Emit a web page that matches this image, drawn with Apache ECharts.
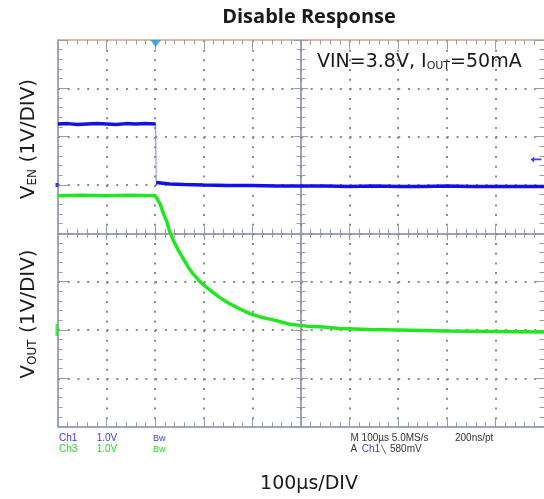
<!DOCTYPE html>
<html><head><meta charset="utf-8">
<script src="https://cdn.jsdelivr.net/npm/echarts@6/dist/echarts.min.js"></script>
<style>html,body{margin:0;padding:0;background:#fff}#c{width:544px;height:499px}</style>
</head><body><div id="c"></div>
<script>
// Time axis: 100 µs per division, 10 divisions
const timeMin = 0, timeMax = 1000, timeStep = 100;
// Vertical axis in divisions (1 V/DIV), 8 divisions
const divMin = -4, divMax = 4, divStep = 1;

// Ch1 (V_EN), in divisions
const ch1Time = [0, 20, 40, 60, 80, 100, 120, 140, 160, 180, 201, 202, 205, 230, 260, 300, 350, 400, 450, 500, 550, 600, 650, 700, 750, 800, 850, 900, 950, 1000];
const ch1Div  = [2.26, 2.27, 2.25, 2.26, 2.27, 2.26, 2.25, 2.27, 2.26, 2.27, 2.26, 1.05, 1.03, 1.02, 1.01, 1.00, 0.99, 0.99, 0.98, 0.98, 0.98, 0.97, 0.98, 0.97, 0.97, 0.98, 0.97, 0.97, 0.97, 0.97];
const ch1EdgeIndex = 10; // last sample before the falling edge

// Ch3 (V_OUT), in divisions
const ch3Time = [0, 50, 100, 150, 200, 203, 210, 217, 224, 230, 237, 244, 251, 258, 268, 278, 292, 306, 320, 333, 354, 375, 395, 416, 443, 477, 512, 546, 580, 640, 700, 800, 900, 1000];
const ch3Div  = [0.78, 0.79, 0.78, 0.79, 0.78, 0.78, 0.61, 0.41, 0.24, 0.03, -0.14, -0.28, -0.41, -0.53, -0.70, -0.84, -1.00, -1.12, -1.23, -1.33, -1.46, -1.57, -1.66, -1.73, -1.79, -1.88, -1.92, -1.94, -1.97, -1.99, -2.00, -2.02, -2.03, -2.04];

// Markers
const ch1Ground = 1.0, ch3Ground = -2.0;
const trigTime = 201, trigLevel = 1.53;

// Texts
const titleText = 'Disable Response';
const xLabel = '100\u00b5s/DIV';
const statusLeft = [['Ch1', '1.0V', 'Bw'], ['Ch3', '1.0V', 'Bw']];
const statusRight1 = ['M 100\u00b5s 5.0MS/s', '200ns/pt'];
const statusRight2 = ['A', 'Ch1', '\u2572', '580mV'];

const FRAME = '#8088a2', TICK = '#959db3', DOT = '#868a96';
const BLUE = '#1212e8', GREEN = '#22e622', TBLUE = '#3a3aff', TGREEN = '#22dd22';
const GL = 58, GT = 40, GW = 486, GH = 386.67;

function xAx(extra) {
  return Object.assign({
    type: 'value', min: timeMin, max: timeMax, interval: timeStep,
    axisLabel: { show: false },
    axisLine: { show: true, onZero: false, lineStyle: { color: FRAME, width: 1.5 } },
    axisTick: { show: true, inside: true, length: 9, lineStyle: { color: TICK } },
    minorTick: { show: true, splitNumber: 5, length: 4.5, lineStyle: { color: TICK } },
    splitLine: { show: false }
  }, extra);
}
function yAx(extra) {
  return Object.assign({
    type: 'value', min: divMin, max: divMax, interval: divStep,
    axisLabel: { show: false },
    axisLine: { show: true, onZero: false, lineStyle: { color: FRAME, width: 1.5 } },
    axisTick: { show: true, inside: true, length: 10, lineStyle: { color: TICK } },
    minorTick: { show: true, splitNumber: 5, length: 4.5, lineStyle: { color: TICK } },
    splitLine: { show: false }
  }, extra);
}
const centerTick = { show: true, inside: true, length: 7, lineStyle: { color: TICK } };
const centerMinor = { show: true, splitNumber: 5, length: 4.5, lineStyle: { color: TICK } };

const xAxes = [
  xAx({ position: 'bottom', splitLine: { show: true, showMinLine: false, showMaxLine: false, lineStyle: { color: DOT, width: 2, type: [2, 7.67] } } }),
  xAx({ position: 'top', axisLine: { show: true, onZero: false, lineStyle: { color: '#c9a78e', width: 1.5 } } }),
  xAx({ position: 'bottom', offset: -GH / 2, axisTick: centerTick, minorTick: centerMinor }),
  xAx({ position: 'bottom', offset: -GH / 2, axisLine: { show: false }, axisTick: Object.assign({}, centerTick, { inside: false }), minorTick: centerMinor })
];
const yAxes = [
  yAx({ position: 'left', splitLine: { show: true, showMinLine: false, showMaxLine: false, lineStyle: { color: DOT, width: 2, type: [2, 7.72] } } }),
  yAx({ position: 'right', axisLine: { show: false, onZero: false } }),
  yAx({ position: 'left', offset: -GW / 2, axisTick: centerTick, minorTick: centerMinor }),
  yAx({ position: 'left', offset: -GW / 2, axisLine: { show: false }, axisTick: Object.assign({}, centerTick, { inside: false }), minorTick: centerMinor })
];

const pairs = (t, v) => t.map((x, i) => [x, v[i]]);
const ch1All = pairs(ch1Time, ch1Div);
const ch1High = ch1All.slice(0, ch1EdgeIndex + 1);
const ch1Low = ch1All.slice(ch1EdgeIndex + 1);

const FT = 'DejaVu Sans';
const SMALL = 'Liberation Sans';
function txt(x, y, text, fill, size, align, font) {
  return { type: 'text', x: x, y: y, silent: true, style: { text: text, fill: fill, font: (size || 10) + 'px "' + (font || SMALL) + '"', align: align || 'left', verticalAlign: 'middle' } };
}
function richTxt(x, y, text, rich, rotation) {
  return { type: 'text', x: x, y: y, rotation: rotation || 0, silent: true, style: { text: text, rich: rich, align: 'center', verticalAlign: 'middle' } };
}
const bigRich = {
  a: { fontSize: 20, fontFamily: FT, fill: '#1a1a1a', color: '#1a1a1a', verticalAlign: 'bottom' },
  b: { fontSize: 12, fontFamily: FT, fill: '#1a1a1a', color: '#1a1a1a', verticalAlign: 'bottom' }
};
const annRich = {
  a: { fontSize: 19, fontFamily: FT, fill: '#1a1a1a', color: '#1a1a1a', verticalAlign: 'bottom' },
  b: { fontSize: 11, fontFamily: FT, fill: '#1a1a1a', color: '#1a1a1a', verticalAlign: 'bottom' }
};

const graphics = [
  { type: 'text', x: 309, y: 17, silent: true, style: { text: titleText, fill: '#1a1a1a', font: 'bold 20px "Open Sans"', align: 'center', verticalAlign: 'middle' } },
  richTxt(29, 139, '{a|V}{b|EN}{a| (1V/DIV)}', bigRich, Math.PI / 2),
  richTxt(29, 314, '{a|V}{b|OUT}{a| (1V/DIV)}', bigRich, Math.PI / 2),
  { type: 'text', x: 317, y: 62, silent: true, style: { text: '{a|VIN=3.8V, I}{b|OUT}{a|=50mA}', rich: annRich, align: 'left', verticalAlign: 'middle' } },
  txt(309, 484, xLabel, '#1a1a1a', 19, 'center', FT),
  txt(59, 438.3, statusLeft[0][0], TBLUE, 10),
  txt(96.7, 438.3, statusLeft[0][1], TBLUE, 10),
  txt(153, 438.3, statusLeft[0][2], TBLUE, 9),
  txt(59, 449.3, statusLeft[1][0], TGREEN, 10),
  txt(96.7, 449.3, statusLeft[1][1], TGREEN, 10),
  txt(153, 449.3, statusLeft[1][2], TGREEN, 9),
  txt(350.5, 438.3, statusRight1[0], '#333', 10),
  txt(455, 438.3, statusRight1[1], '#333', 10),
  txt(350.5, 449.3, statusRight2[0], '#333', 10),
  txt(361.7, 449.3, statusRight2[1], TBLUE, 10),
  txt(380.5, 449.3, statusRight2[2], '#333', 8),
  txt(390, 449.3, statusRight2[3], '#333', 10)
];

const lineBase = { type: 'line', xAxisIndex: 0, yAxisIndex: 0, showSymbol: false, symbol: 'none', silent: true };
const option = {
  animation: false,
  backgroundColor: '#ffffff',
  grid: { left: GL, top: GT, width: GW, height: GH, containLabel: false },
  xAxis: xAxes,
  yAxis: yAxes,
  series: [
    Object.assign({}, lineBase, { name: 'Ch1 edge', data: ch1All, z: 4, lineStyle: { color: '#8080ff', width: 1 } }),
    Object.assign({}, lineBase, { name: 'Ch1', data: ch1High, z: 5, lineStyle: { color: BLUE, width: 3.5 } }),
    Object.assign({}, lineBase, { name: 'Ch1 low', data: ch1Low, z: 5, lineStyle: { color: BLUE, width: 3.5 } }),
    Object.assign({}, lineBase, { name: 'Ch3', data: pairs(ch3Time, ch3Div), z: 6, lineStyle: { color: GREEN, width: 3.5 } }),
    { type: 'scatter', xAxisIndex: 0, yAxisIndex: 0, clip: false, z: 7, silent: true,
      data: [
        { value: [timeMin, ch1Ground], symbol: 'rect', symbolSize: [3, 4], symbolOffset: [-1, 0], itemStyle: { color: BLUE } },
        { value: [timeMin, ch3Ground], symbol: 'rect', symbolSize: [3, 12], symbolOffset: [-1, 0], itemStyle: { color: GREEN } },
        { value: [trigTime, divMax], symbol: 'triangle', symbolRotate: 180, symbolSize: [11, 7], symbolOffset: [0, 3.5], itemStyle: { color: '#1a9be6' } },
        { value: [timeMax, trigLevel], symbol: 'path://M0,3 L4,0 L4,2.2 L12,2.2 L12,3.8 L4,3.8 L4,6 Z', symbolSize: [11, 6], symbolOffset: [-8, 0], itemStyle: { color: BLUE } }
      ] }
  ],
  graphic: graphics
};
const chart = echarts.init(document.getElementById('c'), null, { renderer: 'canvas' });
chart.setOption(option);
</script>
</body></html>
